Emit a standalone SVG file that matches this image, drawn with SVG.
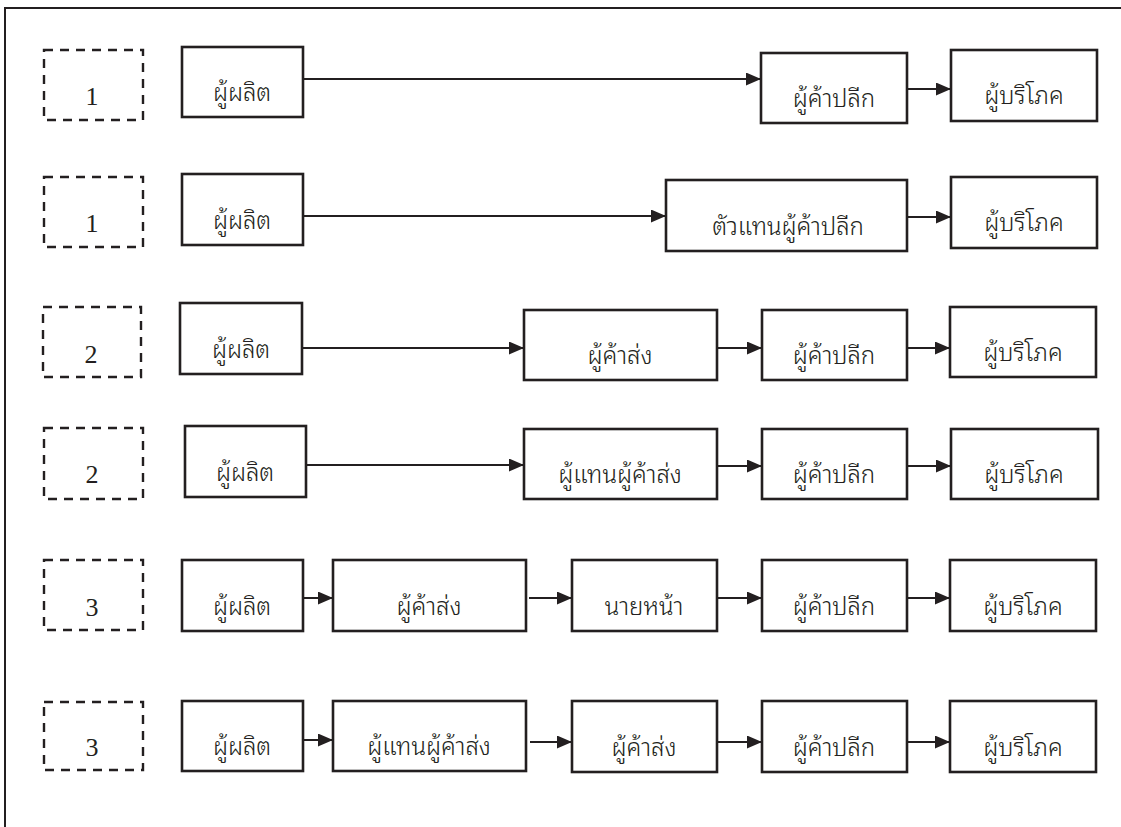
<svg xmlns="http://www.w3.org/2000/svg" width="1121" height="827" viewBox="0 0 1121 827">
<style>
.frame{fill:none;stroke:#231f20;stroke-width:2}
.box{fill:#fff;stroke:#231f20;stroke-width:2.6}
.dash{fill:none;stroke:#231f20;stroke-width:2.4;stroke-dasharray:9 7}
.lbl{font-family:"Noto Sans Thai Looped","Noto Serif Thai","Noto Sans Thai","Noto Sans",sans-serif;font-size:24px;font-weight:300;fill:#231f20;text-anchor:middle}
.num{font-family:"Liberation Serif","Times New Roman",serif;font-size:26px;fill:#231f20;text-anchor:middle}
.conn{fill:none;stroke:#231f20;stroke-width:2;marker-end:url(#arr)}
</style>
<defs>
<marker id="arr" markerUnits="userSpaceOnUse" markerWidth="15" markerHeight="13" refX="15" refY="6.5" orient="auto">
<path d="M0,0 L15,6.5 L0,13 z" fill="#231f20"/>
</marker>
</defs>
<rect width="1121" height="827" fill="#fff"/>
<path class="frame" d="M5,827 V8 H1121"/>

<g id="connectors">
<line class="conn" x1="303" y1="79" x2="761" y2="79"/>
<line class="conn" x1="907" y1="89" x2="951" y2="89"/>
<line class="conn" x1="303" y1="216" x2="666" y2="216"/>
<line class="conn" x1="907" y1="217" x2="951" y2="217"/>
<line class="conn" x1="302" y1="348" x2="524" y2="348"/>
<line class="conn" x1="717" y1="348" x2="762" y2="348"/>
<line class="conn" x1="907" y1="348" x2="950" y2="348"/>
<line class="conn" x1="306" y1="465" x2="524" y2="465"/>
<line class="conn" x1="717" y1="466" x2="762" y2="466"/>
<line class="conn" x1="907" y1="466" x2="951" y2="466"/>
<line class="conn" x1="303" y1="598" x2="333" y2="598"/>
<line class="conn" x1="529" y1="598" x2="572" y2="598"/>
<line class="conn" x1="717" y1="598" x2="762" y2="598"/>
<line class="conn" x1="907" y1="598" x2="950" y2="598"/>
<line class="conn" x1="303" y1="740" x2="333" y2="740"/>
<line class="conn" x1="530" y1="742" x2="572" y2="742"/>
<line class="conn" x1="717" y1="742" x2="762" y2="742"/>
<line class="conn" x1="907" y1="742" x2="950" y2="742"/>
</g>

<!-- Row 1 -->
<g id="lvl1a"><rect class="dash" x="44" y="50" width="99" height="70"/><text class="num" x="92" y="105">1</text></g>
<g id="r1-producer"><rect class="box" x="182" y="47" width="121" height="70"/><text class="lbl" x="242" y="101">ผู้ผลิต</text></g>
<g id="r1-retail"><rect class="box" x="761" y="53" width="146" height="70"/><text class="lbl" x="834" y="107">ผู้ค้าปลีก</text></g>
<g id="r1-consumer"><rect class="box" x="951" y="50" width="146" height="71"/><text class="lbl" x="1024" y="104">ผู้บริโภค</text></g>

<!-- Row 2 -->
<g id="lvl1b"><rect class="dash" x="44" y="177" width="99" height="70"/><text class="num" x="92" y="232">1</text></g>
<g id="r2-producer"><rect class="box" x="182" y="174" width="121" height="71"/><text class="lbl" x="242" y="229">ผู้ผลิต</text></g>
<g id="r2-agentretail"><rect class="box" x="666" y="180" width="241" height="71"/><text class="lbl" x="788" y="235">ตัวแทนผู้ค้าปลีก</text></g>
<g id="r2-consumer"><rect class="box" x="951" y="177" width="146" height="71"/><text class="lbl" x="1024" y="231">ผู้บริโภค</text></g>

<!-- Row 3 -->
<g id="lvl2a"><rect class="dash" x="43" y="307" width="98" height="70"/><text class="num" x="91" y="363">2</text></g>
<g id="r3-producer"><rect class="box" x="180" y="303" width="122" height="71"/><text class="lbl" x="241" y="358">ผู้ผลิต</text></g>
<g id="r3-wholesale"><rect class="box" x="524" y="310" width="193" height="70"/><text class="lbl" x="620" y="364">ผู้ค้าส่ง</text></g>
<g id="r3-retail"><rect class="box" x="762" y="310" width="145" height="70"/><text class="lbl" x="834" y="364">ผู้ค้าปลีก</text></g>
<g id="r3-consumer"><rect class="box" x="950" y="307" width="146" height="70"/><text class="lbl" x="1023" y="361">ผู้บริโภค</text></g>

<!-- Row 4 -->
<g id="lvl2b"><rect class="dash" x="44" y="428" width="99" height="71"/><text class="num" x="92" y="483">2</text></g>
<g id="r4-producer"><rect class="box" x="185" y="426" width="121" height="71"/><text class="lbl" x="245" y="481">ผู้ผลิต</text></g>
<g id="r4-agentwholesale"><rect class="box" x="524" y="429" width="193" height="70"/><text class="lbl" x="620" y="483">ผู้แทนผู้ค้าส่ง</text></g>
<g id="r4-retail"><rect class="box" x="762" y="429" width="145" height="70"/><text class="lbl" x="834" y="483">ผู้ค้าปลีก</text></g>
<g id="r4-consumer"><rect class="box" x="951" y="429" width="147" height="70"/><text class="lbl" x="1024" y="483">ผู้บริโภค</text></g>

<!-- Row 5 -->
<g id="lvl3a"><rect class="dash" x="44" y="560" width="99" height="70"/><text class="num" x="92" y="616">3</text></g>
<g id="r5-producer"><rect class="box" x="182" y="560" width="121" height="71"/><text class="lbl" x="242" y="615">ผู้ผลิต</text></g>
<g id="r5-wholesale"><rect class="box" x="333" y="560" width="193" height="71"/><text class="lbl" x="429" y="615">ผู้ค้าส่ง</text></g>
<g id="r5-broker"><rect class="box" x="572" y="560" width="145" height="71"/><text class="lbl" x="644" y="615">นายหน้า</text></g>
<g id="r5-retail"><rect class="box" x="762" y="560" width="145" height="71"/><text class="lbl" x="834" y="615">ผู้ค้าปลีก</text></g>
<g id="r5-consumer"><rect class="box" x="950" y="560" width="146" height="71"/><text class="lbl" x="1023" y="615">ผู้บริโภค</text></g>

<!-- Row 6 -->
<g id="lvl3b"><rect class="dash" x="44" y="702" width="99" height="68"/><text class="num" x="92" y="756">3</text></g>
<g id="r6-producer"><rect class="box" x="182" y="701" width="121" height="70"/><text class="lbl" x="242" y="755">ผู้ผลิต</text></g>
<g id="r6-agentwholesale"><rect class="box" x="333" y="701" width="193" height="70"/><text class="lbl" x="429" y="755">ผู้แทนผู้ค้าส่ง</text></g>
<g id="r6-wholesale"><rect class="box" x="572" y="701" width="145" height="71"/><text class="lbl" x="644" y="756">ผู้ค้าส่ง</text></g>
<g id="r6-retail"><rect class="box" x="762" y="701" width="145" height="71"/><text class="lbl" x="834" y="756">ผู้ค้าปลีก</text></g>
<g id="r6-consumer"><rect class="box" x="950" y="701" width="146" height="71"/><text class="lbl" x="1023" y="756">ผู้บริโภค</text></g>
</svg>
